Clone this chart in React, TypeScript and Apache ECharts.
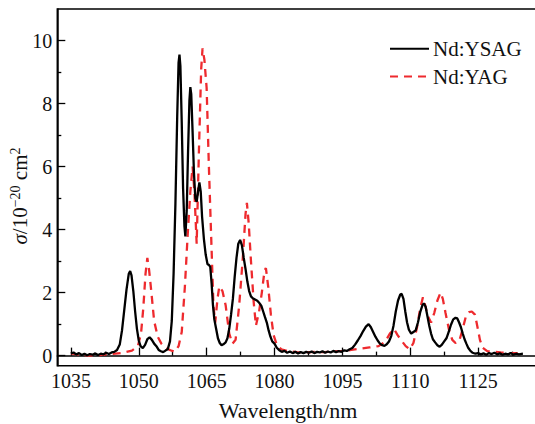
import React, { useEffect, useRef } from "react";
import * as echarts from "echarts";

const ysagX = [1035.0,1035.6,1036.2,1036.8,1037.4,1038.0,1038.6,1039.2,1039.8,1040.4,1041.0,1041.6,1042.2,1042.8,1043.4,1044.0,1044.6,1045.2,1045.8,1046.3,1046.8,1047.3,1047.8,1048.1,1048.4,1048.8,1049.2,1049.6,1050.0,1050.4,1050.9,1051.4,1051.9,1052.4,1052.9,1053.4,1053.9,1054.4,1054.9,1055.4,1055.9,1056.4,1056.9,1057.3,1057.7,1058.1,1058.5,1058.8,1059.0,1059.2,1059.5,1059.8,1060.1,1060.3,1060.6,1060.9,1061.2,1061.4,1061.6,1061.9,1062.2,1062.5,1062.8,1063.1,1063.4,1063.7,1064.0,1064.4,1064.8,1065.2,1065.5,1065.8,1066.1,1066.4,1066.7,1067.1,1067.5,1067.9,1068.3,1068.7,1069.2,1069.6,1070.0,1070.4,1070.8,1071.2,1071.6,1072.0,1072.4,1072.8,1073.2,1073.6,1074.0,1074.4,1074.8,1075.2,1075.7,1076.2,1076.7,1077.1,1077.5,1077.9,1078.3,1078.7,1079.1,1079.5,1080.0,1080.5,1081.0,1081.6,1082.2,1082.8,1083.4,1084.0,1084.6,1085.2,1085.8,1086.4,1087.0,1087.6,1088.2,1088.8,1089.4,1090.0,1090.6,1091.2,1091.8,1092.4,1093.0,1093.6,1094.2,1094.8,1095.4,1096.0,1096.6,1097.2,1097.8,1098.4,1099.0,1099.6,1100.2,1100.8,1101.3,1101.8,1102.3,1102.8,1103.3,1103.8,1104.3,1104.8,1105.3,1105.8,1106.3,1106.8,1107.3,1107.8,1108.1,1108.5,1108.9,1109.3,1109.7,1110.2,1110.7,1111.2,1111.7,1112.2,1112.7,1113.0,1113.4,1113.8,1114.2,1114.6,1115.0,1115.5,1116.0,1116.5,1117.0,1117.5,1118.0,1118.5,1119.0,1119.5,1120.0,1120.4,1120.8,1121.2,1121.6,1122.0,1122.4,1122.8,1123.3,1123.8,1124.4,1125.0,1125.6,1126.2,1126.8,1127.4,1128.0,1128.6,1129.2,1129.8,1130.4,1131.0,1131.6,1132.2,1132.8,1133.4,1134.0,1134.9];
const ysagY = [0.07,0.10,0.04,0.08,0.02,0.06,0.01,0.05,0.03,0.07,0.02,0.06,0.04,0.09,0.05,0.10,0.12,0.18,0.35,0.80,1.45,2.10,2.60,2.68,2.55,2.05,1.40,0.85,0.48,0.30,0.24,0.34,0.52,0.58,0.50,0.38,0.30,0.18,0.14,0.11,0.16,0.20,0.45,1.10,2.60,4.80,7.60,9.30,9.55,9.20,7.40,5.30,4.10,3.78,4.60,6.50,8.10,8.52,8.30,7.10,5.80,5.00,4.88,5.20,5.50,5.20,4.40,3.70,3.20,2.90,2.88,2.82,2.30,1.60,1.15,0.85,0.55,0.40,0.33,0.36,0.42,0.55,0.85,1.30,1.80,2.50,3.10,3.55,3.67,3.50,3.10,2.75,2.35,2.05,1.88,1.82,1.78,1.74,1.66,1.58,1.40,1.22,1.05,0.80,0.60,0.45,0.38,0.25,0.18,0.12,0.15,0.09,0.13,0.08,0.12,0.07,0.11,0.08,0.12,0.09,0.13,0.08,0.12,0.10,0.14,0.09,0.13,0.10,0.15,0.11,0.14,0.12,0.17,0.15,0.20,0.24,0.35,0.48,0.62,0.78,0.92,1.00,0.90,0.75,0.60,0.48,0.38,0.33,0.31,0.36,0.45,0.62,0.95,1.40,1.75,1.94,1.96,1.80,1.40,1.05,0.82,0.70,0.75,0.80,1.05,1.38,1.60,1.66,1.55,1.25,0.95,0.70,0.52,0.42,0.33,0.28,0.35,0.45,0.55,0.75,0.98,1.15,1.20,1.18,1.05,0.90,0.70,0.52,0.38,0.25,0.15,0.09,0.06,0.08,0.04,0.07,0.03,0.08,0.05,0.09,0.04,0.07,0.03,0.06,0.04,0.08,0.03,0.06,0.04,0.06];

const yagX = [1035.0,1037.0,1039.0,1041.5,1044.0,1046.5,1048.5,1049.8,1050.5,1051.0,1051.5,1051.9,1052.3,1052.8,1053.4,1054.2,1055.0,1056.0,1057.0,1058.0,1058.8,1059.5,1060.2,1060.8,1061.4,1061.9,1062.3,1062.8,1063.3,1063.8,1064.1,1064.5,1065.0,1065.5,1066.0,1066.5,1066.9,1067.4,1067.8,1068.5,1069.2,1070.0,1070.7,1071.4,1072.2,1073.0,1073.6,1073.9,1074.3,1074.8,1075.4,1075.9,1076.6,1077.2,1077.8,1078.1,1078.6,1079.2,1079.8,1080.5,1081.5,1083.0,1085.0,1087.0,1089.0,1091.0,1093.0,1095.0,1097.0,1099.0,1101.0,1103.0,1104.5,1105.5,1106.4,1107.2,1108.2,1109.0,1109.9,1110.7,1111.5,1112.2,1112.8,1113.3,1113.9,1114.6,1115.3,1116.0,1116.7,1117.2,1117.8,1118.6,1119.3,1120.0,1120.8,1121.5,1122.3,1123.0,1123.6,1124.3,1124.8,1125.4,1126.0,1127.0,1128.5,1130.0,1132.0,1134.2];
const yagY = [0.07,0.03,0.00,0.02,0.05,0.09,0.16,0.30,0.70,1.50,2.60,3.10,2.70,2.00,1.10,0.60,0.38,0.24,0.17,0.12,0.30,0.75,2.20,3.80,5.20,6.00,5.20,3.55,6.50,9.10,9.75,9.40,8.50,6.00,3.80,1.60,1.05,1.80,2.20,2.05,1.60,0.70,0.38,0.50,1.60,3.10,4.50,4.85,4.20,3.00,1.70,0.95,1.40,2.00,2.70,2.78,2.20,1.30,0.65,0.35,0.20,0.14,0.11,0.10,0.12,0.11,0.13,0.15,0.18,0.22,0.26,0.30,0.45,0.70,0.85,0.65,0.45,0.30,0.20,0.40,0.90,1.50,1.85,1.60,1.25,1.05,1.35,1.75,2.00,1.80,1.35,0.80,0.50,0.40,0.45,0.80,1.25,1.38,1.40,1.30,0.95,0.50,0.25,0.14,0.12,0.10,0.09,0.08];

const xMajorTicks = [1035, 1050, 1065, 1080, 1095, 1110, 1125];
const xMinorTicks = [1042.5, 1057.5, 1072.5, 1087.5, 1102.5, 1117.5, 1132.5];
const yMajorTicks = [0, 2, 4, 6, 8, 10];
const yMinorTicks = [1, 3, 5, 7, 9];
const seriesNames = ["Nd:YSAG", "Nd:YAG"];

const FONT = "Liberation Serif";
const FS = 20;
const NAME_FS = 22;
const RED = "#ee2a2e";

export default function App() {
  const ref = useRef<HTMLDivElement>(null);
  useEffect(() => {
    if (!ref.current) return;
    const chart = echarts.init(ref.current, undefined, { renderer: "svg" });
    const ysag = ysagX.map((x, i) => [x, ysagY[i]]);
    const yag = yagX.map((x, i) => [x, yagY[i]]);
    const grid = { left: 57.3, top: 9, right: 1, bottom: 58.3 };
    const fmt = (v: number) => String(v);
    chart.setOption({
      animation: false,
      textStyle: { fontFamily: FONT },
      grid: { ...grid, show: true, borderColor: "#000", borderWidth: 1.5, containLabel: false },
      xAxis: [
        {
          type: "value", min: 1032, max: 1140, position: "bottom",
          axisLine: { show: true, lineStyle: { color: "#000", width: 1.5 } },
          axisTick: { show: true, inside: true, length: 8, customValues: xMajorTicks, lineStyle: { color: "#000", width: 1.3 } },
          axisLabel: { show: true, customValues: xMajorTicks, formatter: fmt, margin: 5, fontFamily: FONT, fontSize: FS, color: "#111" },
          splitLine: { show: false },
        },
        {
          type: "value", min: 1032, max: 1140, position: "bottom",
          axisLine: { show: false },
          axisTick: { show: true, inside: true, length: 4, customValues: xMinorTicks, lineStyle: { color: "#000", width: 1.3 } },
          axisLabel: { show: false },
          splitLine: { show: false },
        },
      ],
      yAxis: [
        {
          type: "value", min: -0.32, max: 11, position: "left",
          axisLine: { show: true, lineStyle: { color: "#000", width: 1.5 } },
          axisTick: { show: true, inside: true, length: 8, customValues: yMajorTicks, lineStyle: { color: "#000", width: 1.3 } },
          axisLabel: { show: true, customValues: yMajorTicks, formatter: fmt, margin: 5, fontFamily: FONT, fontSize: FS, color: "#111" },
          splitLine: { show: false },
        },
        {
          type: "value", min: -0.32, max: 11, position: "left",
          axisLine: { show: false },
          axisTick: { show: true, inside: true, length: 4, customValues: yMinorTicks, lineStyle: { color: "#000", width: 1.3 } },
          axisLabel: { show: false },
          splitLine: { show: false },
        },
      ],
      legend: {
        orient: "vertical", left: 384, top: 33.3, itemWidth: 39, itemHeight: 20, itemGap: 6.7,
        itemStyle: { opacity: 0 },
        textStyle: { fontFamily: FONT, fontSize: 21, color: "#111", lineHeight: 20, padding: [0, 0, 0, -1] },
        data: seriesNames,
      },
      series: [
        {
          name: seriesNames[0], type: "line", data: ysag, symbol: "none", xAxisIndex: 0, yAxisIndex: 0,
          lineStyle: { color: "#000", width: 2.3 }, itemStyle: { color: "#000" }, z: 3,
        },
        {
          name: seriesNames[1], type: "line", data: yag, symbol: "none", xAxisIndex: 0, yAxisIndex: 0,
          lineStyle: { color: RED, width: 2.3, type: [8, 6] }, itemStyle: { color: RED }, z: 2,
        },
      ],
      graphic: [
        {
          type: "text", x: 288, y: 410,
          style: { text: "Wavelength/nm", fontFamily: FONT, fontSize: NAME_FS, fill: "#111", align: "center", verticalAlign: "middle" },
        },
        {
          type: "text", x: 20, y: 196, rotation: Math.PI / 2,
          style: {
            text: "{i|σ}{n|/10}{s|−20}{n| cm}{s|2}",
            fontFamily: FONT, fill: "#111", align: "center", verticalAlign: "middle",
            rich: {
              i: { fontFamily: FONT, fontSize: 21, fontStyle: "italic", lineHeight: 24, fill: "#111" },
              n: { fontFamily: FONT, fontSize: 21, lineHeight: 24, fill: "#111" },
              s: { fontFamily: FONT, fontSize: 14, lineHeight: 14, verticalAlign: "top", fill: "#111" },
            },
          },
        },
      ],
    });
    return () => chart.dispose();
  }, []);
  return (
    <div style={{ position: "fixed", left: 0, top: 0, width: 535, height: 424, overflow: "hidden", background: "#fff" }}>
      <div ref={ref} style={{ width: 547, height: 424 }} />
    </div>
  );
}
